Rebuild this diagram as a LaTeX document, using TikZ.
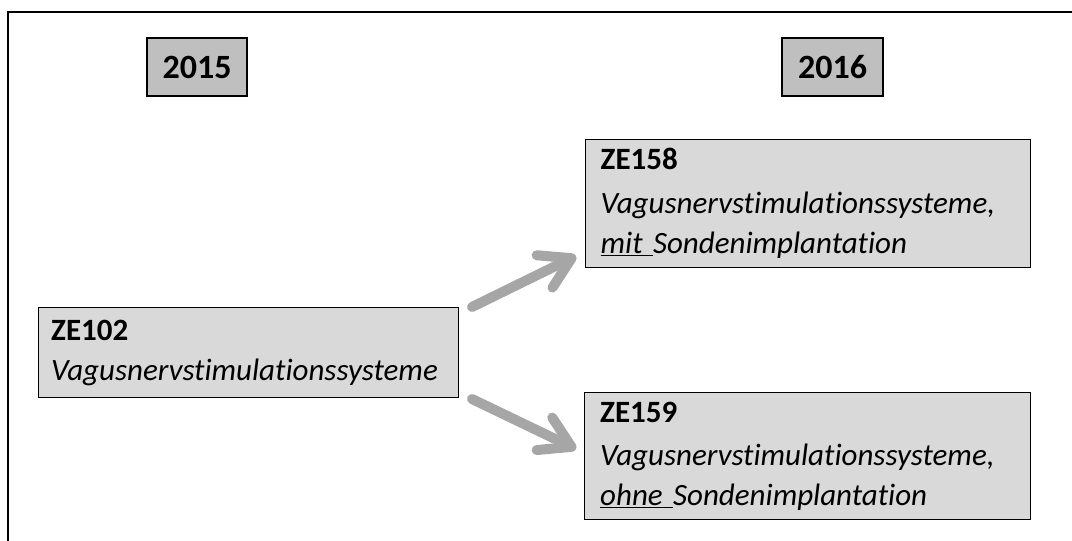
\documentclass[tikz,border=0pt]{standalone}
\usepackage{fontspec}
\setmainfont{Carlito}[Ligatures={NoCommon,NoRare},RawFeature={-liga}]
\usetikzlibrary{arrows.meta}
\definecolor{yearfill}{HTML}{BFBFBF}
\definecolor{boxfill}{HTML}{D9D9D9}
\definecolor{arrowgray}{HTML}{A6A6A6}
\begin{document}
\begin{tikzpicture}[x=1pt,y=-1pt,
  yearbox/.style={draw=black,line width=1.6pt,fill=yearfill,inner sep=0pt,
    font=\fontsize{34}{40}\selectfont\bfseries},
  codebox/.style={draw=black,line width=1.4pt,fill=boxfill,inner sep=0pt,
    align=left,anchor=north west,
    font=\fontsize{31}{40}\selectfont},
  flow/.style={line width=10pt,arrowgray,line cap=round,
    -{Straight Barb[length=30pt,width=36pt,round]}}]
  \useasboundingbox (0,0) rectangle (1072,541);
  % open frame: top and left edges
  \draw[line width=2pt] (8,541) -- (8,12) -- (1072,12);

  % year headings
  \node[yearbox,minimum width=100pt,minimum height=58pt] (y15) at (197,67) {2015};
  \node[yearbox,minimum width=101pt,minimum height=58pt] (y16) at (832.5,67) {2016};

  % code boxes
  \node[codebox,minimum width=420pt,minimum height=90pt,text width=395pt] (ze102) at (38,307)
    {\textbf{ZE102}\\\textit{Vagusnervstimulationssysteme}};
  \node[codebox,minimum width=445pt,minimum height=128pt,text width=415pt] (ze158) at (585,139)
    {\textbf{ZE158}\\[4pt]\textit{Vagusnervstimulationssysteme,}\\\textit{\underline{mit }Sondenimplantation}};
  \node[codebox,minimum width=446pt,minimum height=127pt,text width=415pt] (ze159) at (584,392)
    {\textbf{ZE159}\\[3pt]\textit{Vagusnervstimulationssysteme,}\\\textit{\underline{ohne }Sondenimplantation}};

  % transition arrows
  \coordinate (a1s) at (472,307);
  \coordinate (a1e) at (576,256);
  \coordinate (a2s) at (472,399);
  \coordinate (a2e) at (576,449);
  \draw[flow] (a1s) -- (a1e);
  \draw[flow] (a2s) -- (a2e);
\end{tikzpicture}
\end{document}
